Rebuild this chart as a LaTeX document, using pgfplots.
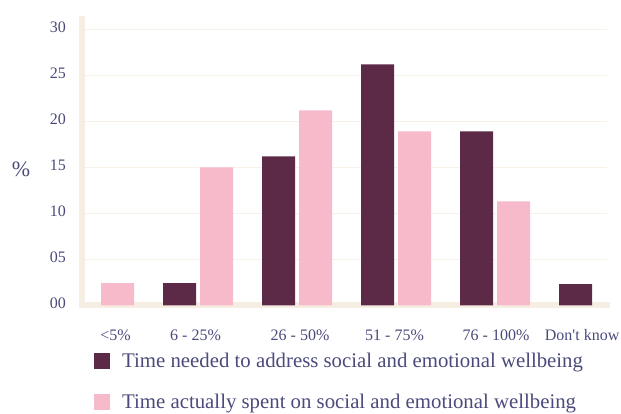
\documentclass[border=0pt]{standalone}
\usepackage{fontspec}
\setmainfont{Liberation Serif}
\usepackage{pgfplots}
\pgfplotsset{compat=1.18}

\definecolor{needed}{HTML}{5C2946}
\definecolor{spent}{HTML}{F6BACB}
\definecolor{axisbeige}{HTML}{F7EEE3}
\definecolor{gridbeige}{HTML}{F8F1EA}
\definecolor{labelblue}{HTML}{4A4A7C}

% bars go under the axis lines but above the grid
\pgfplotsset{
  layers/barsunder/.define layer set={axis background,axis grid,pre main,main,axis ticks,axis lines,axis tick labels,axis descriptions,axis foreground}{},
}

\begin{document}
\begin{tikzpicture}
\begin{axis}[
    set layers=barsunder,
    at={(82pt,108.7pt)}, anchor=south west,
    scale only axis, width=525pt, height=286.3pt,
    xmin=-0.172, xmax=5.131,
    ymin=0, ymax=31.12,
    axis x line*=bottom, axis y line*=left,
    axis line style={axisbeige, line width=6pt, line cap=rect, -},
    major tick length=0pt,
    ytick={0,5,10,15,20,25,30},
    yticklabels={00,05,10,15,20,25,30},
    xtick={0.167,0.975,2.03,2.985,4.01,4.88},
    xticklabels={{<5\%},{6 - 25\%},{26 - 50\%},{51 - 75\%},{76 - 100\%},{Don\textquotesingle t know}},
    ymajorgrids=true,
    grid style={gridbeige, line width=1.2pt},
    yticklabel style={font=\fontsize{16}{16}\selectfont, text=labelblue,
        inner sep=0pt, anchor=east, xshift=-16pt, yshift=2pt},
    xticklabel style={font=\fontsize{16}{16}\selectfont, text=labelblue,
        inner sep=0pt, anchor=base, yshift=-35.7pt},
    ylabel={\%},
    ylabel style={rotate=-90, at={(axis description cs:-0.1162,0.476)}, anchor=center,
        font=\fontsize{22}{22}\selectfont, text=labelblue},
    ybar, bar width=0.333,
    legend style={at={(axis description cs:0.0229,-0.166)}, anchor=north west,
        draw=none, fill=none, inner sep=0pt, row sep=25pt, column sep=12pt,
        font=\fontsize{20.8}{20.8}\selectfont, text=labelblue, nodes={inner sep=0pt}},
    legend cell align=left,
    legend image code/.code={\fill[#1] (0pt,-8pt) rectangle (16pt,8pt);},
]

\addplot[fill=needed, draw=none, bar shift=-0.187]
    coordinates {(1,2.4)(2,16.2)(3,26.2)(4,18.9)(5,2.3)};
\addplot[fill=spent, draw=none, bar shift=0.187]
    coordinates {(0,2.4)(1,15.0)(2,21.2)(3,18.9)(4,11.3)};

\legend{Time needed to address social and emotional wellbeing,
        Time actually spent on social and emotional wellbeing}
\end{axis}
\pgfresetboundingbox
\useasboundingbox (0pt,0pt) rectangle (621pt,414pt);
\end{tikzpicture}
\end{document}
